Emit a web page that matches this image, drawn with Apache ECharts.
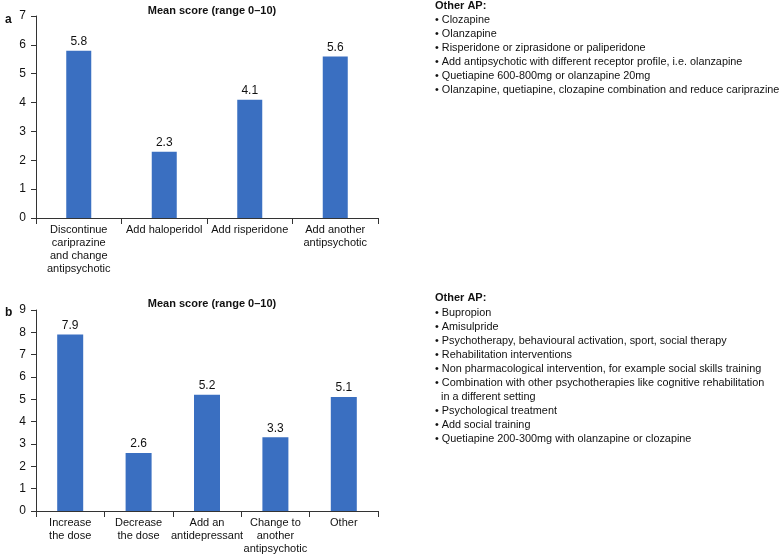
<!DOCTYPE html>
<html>
<head>
<meta charset="utf-8">
<script src="https://cdn.jsdelivr.net/npm/echarts@6/dist/echarts.min.js"></script>
<style>
html,body{margin:0;padding:0;background:#fff;}
#c{width:784px;height:555px;}
</style>
</head>
<body>
<div id="c"></div>
<script>
var categoriesA = ["Discontinue\ncariprazine\nand change\nantipsychotic", "Add haloperidol", "Add risperidone", "Add another\nantipsychotic"];
var valuesA = [5.8, 2.3, 4.1, 5.6];
var ticksA = [0, 1, 2, 3, 4, 5, 6, 7];

var categoriesB = ["Increase\nthe dose", "Decrease\nthe dose", "Add an\nantidepressant", "Change to\nanother\nantipsychotic", "Other"];
var valuesB = [7.9, 2.6, 5.2, 3.3, 5.1];
var ticksB = [0, 1, 2, 3, 4, 5, 6, 7, 8, 9];

var chartTitle = "Mean score (range 0\u201310)";
var panelLabels = ["a", "b"];
var otherTitle = "Other AP:";
var otherA = [
  "Clozapine",
  "Olanzapine",
  "Risperidone or ziprasidone or paliperidone",
  "Add antipsychotic with different receptor profile, i.e. olanzapine",
  "Quetiapine 600-800mg or olanzapine 20mg",
  "Olanzapine, quetiapine, clozapine combination and reduce cariprazine"
];
var otherB = [
  "Bupropion",
  "Amisulpride",
  "Psychotherapy, behavioural activation, sport, social therapy",
  "Rehabilitation interventions",
  "Non pharmacological intervention, for example social skills training",
  "Combination with other psychotherapies like cognitive rehabilitation\n  in a different setting",
  "Psychological treatment",
  "Add social training",
  "Quetiapine 200-300mg with olanzapine or clozapine"
];

var FONT = "Liberation Sans, Arial, Helvetica, sans-serif";
var BAR = "#3a6fc1";
var AX = "#333";

function bulletText(list) {
  return list.map(function (s) { return "\u2022 " + s; }).join("\n");
}

function xAxis(idx, cats) {
  return {
    type: "category", gridIndex: idx, data: cats,
    axisLine: { lineStyle: { color: AX, width: 1 } },
    axisTick: { show: true, length: 6, lineStyle: { color: AX } },
    axisLabel: { color: "#111", fontSize: 11, fontFamily: FONT, margin: 5, lineHeight: 13, interval: 0 }
  };
}
function yAxis(idx, ticks) {
  return {
    type: "value", gridIndex: idx, min: ticks[0], max: ticks[ticks.length - 1], interval: 1,
    splitLine: { show: false },
    axisLine: { show: true, lineStyle: { color: AX, width: 1 } },
    axisTick: { show: true, length: 5, lineStyle: { color: AX } },
    axisLabel: { color: "#111", fontSize: 12, fontFamily: FONT, margin: 10 }
  };
}
function barSeries(idx, vals, w) {
  return {
    type: "bar", xAxisIndex: idx, yAxisIndex: idx, data: vals, barWidth: w,
    itemStyle: { color: BAR },
    label: { show: true, position: "top", distance: 3, color: "#111", fontSize: 12, fontFamily: FONT,
      formatter: function (p) { return p.value.toFixed(1); } },
    silent: true, animation: false
  };
}

var chart = echarts.init(document.getElementById("c"), null, { renderer: "canvas" });
chart.setOption({
  backgroundColor: "#fff",
  animation: false,
  title: [
    { text: chartTitle, left: 207, top: 0, textAlign: "center",
      textStyle: { fontSize: 11, fontWeight: "bold", color: "#111", fontFamily: FONT } },
    { text: chartTitle, left: 207, top: 293, textAlign: "center",
      textStyle: { fontSize: 11, fontWeight: "bold", color: "#111", fontFamily: FONT } },
    { text: panelLabels[0], left: 0, top: 9, textStyle: { fontSize: 12, fontWeight: "bold", color: "#111", fontFamily: FONT } },
    { text: panelLabels[1], left: 0, top: 302, textStyle: { fontSize: 12, fontWeight: "bold", color: "#111", fontFamily: FONT } }
  ],
  grid: [
    { left: 36, top: 16, width: 342, height: 202 },
    { left: 36, top: 310, width: 342, height: 202 }
  ],
  xAxis: [xAxis(0, categoriesA), xAxis(1, categoriesB)],
  yAxis: [yAxis(0, ticksA), yAxis(1, ticksB)],
  series: [barSeries(0, valuesA, 25), barSeries(1, valuesB, 26)],
  graphic: [
    { type: "text", left: 435, top: 0, style: { text: otherTitle, font: "bold 11px " + FONT, fill: "#111" } },
    { type: "text", left: 435, top: 13, style: { text: bulletText(otherA), font: "10.85px " + FONT, fill: "#111", lineHeight: 14 } },
    { type: "text", left: 435, top: 292, style: { text: otherTitle, font: "bold 11px " + FONT, fill: "#111" } },
    { type: "text", left: 435, top: 306, style: { text: bulletText(otherB), font: "10.85px " + FONT, fill: "#111", lineHeight: 14 } }
  ]
});
</script>
</body>
</html>
